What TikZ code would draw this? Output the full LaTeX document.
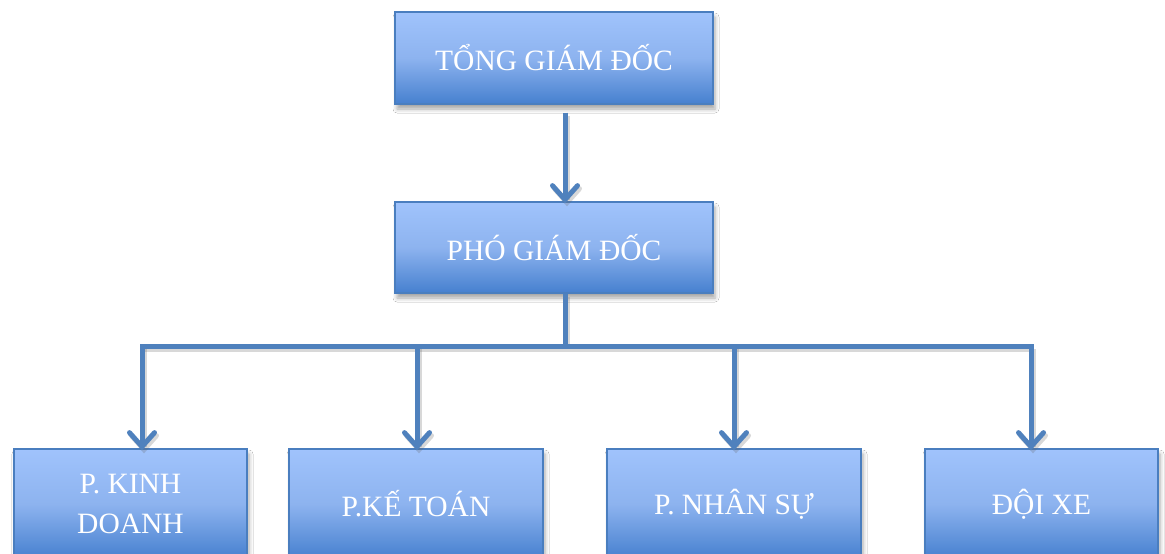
\documentclass[tikz,border=0pt]{standalone}
\usepackage{fontspec}
\setmainfont{Liberation Serif}
\usetikzlibrary{arrows.meta,shadows.blur}
\definecolor{boxtop}{HTML}{A0C3FC}
\definecolor{boxmid}{HTML}{8DB3EF}
\definecolor{boxbot}{HTML}{4680CF}
\definecolor{boxline}{HTML}{4A7EBF}
\definecolor{conn}{HTML}{4F81BD}
\tikzset{
  orgbox/.style={draw=boxline, line width=1.2pt, top color=boxtop, bottom color=boxbot,
    middle color=boxmid, text=white, align=center, inner sep=0pt,
    font=\fontsize{29.5}{40}\selectfont,
    blur shadow={shadow xshift=2pt, shadow yshift=-5pt, shadow blur radius=4pt, shadow opacity=35}},
  conn/.style={draw=conn, line width=5pt,
    preaction={draw=black!60, opacity=.25, line width=5pt, transform canvas={shift={(2pt,-3pt)}}}},
  arr/.style={conn, -{Straight Barb[length=14pt,width=25pt,line cap=round]}}
}
\begin{document}
\begin{tikzpicture}[x=1pt,y=-1pt]
\clip (0,0) rectangle (1165,554);
\fill[white] (0,0) rectangle (1165,554);

% management boxes
\node[orgbox, minimum width=318pt, minimum height=92pt] (tgd) at (554,58) {TỔNG GIÁM ĐỐC};
\node[orgbox, minimum width=318pt, minimum height=91pt] (pgd) at (554,247.5) {PHÓ GIÁM ĐỐC};

% department boxes
\node[orgbox, minimum width=233pt, minimum height=110pt] (kd) at (130.5,504) {P. KINH\\DOANH};
\node[orgbox, minimum width=254pt, minimum height=110pt] (kt) at (416,504) {P.KẾ TOÁN};
\node[orgbox, minimum width=254pt, minimum height=110pt] (ns) at (734,504) {P. NHÂN SỰ};
\node[orgbox, minimum width=233pt, minimum height=110pt] (dx) at (1041.5,504) {ĐỘI XE};

% bus line points
\coordinate (hub) at (565,346);
\coordinate (b1) at (142,346);
\coordinate (b2) at (417,346);
\coordinate (b3) at (734,346);
\coordinate (b4) at (1031,346);

% connectors
\draw[arr] ([xshift=11pt,yshift=-8pt]tgd.south) -- ([xshift=11pt,yshift=-2pt]pgd.north);
\draw[conn] ([xshift=11pt]pgd.south) -- (hub);
\draw[conn, line cap=rect] (b1) -- (b4);
\draw[arr] (b1) -- ([yshift=-2pt]b1 |- kd.north);
\draw[arr] (b2) -- ([yshift=-2pt]b2 |- kt.north);
\draw[arr] (b3) -- ([yshift=-2pt]b3 |- ns.north);
\draw[arr] (b4) -- ([yshift=-2pt]b4 |- dx.north);
\end{tikzpicture}
\end{document}
